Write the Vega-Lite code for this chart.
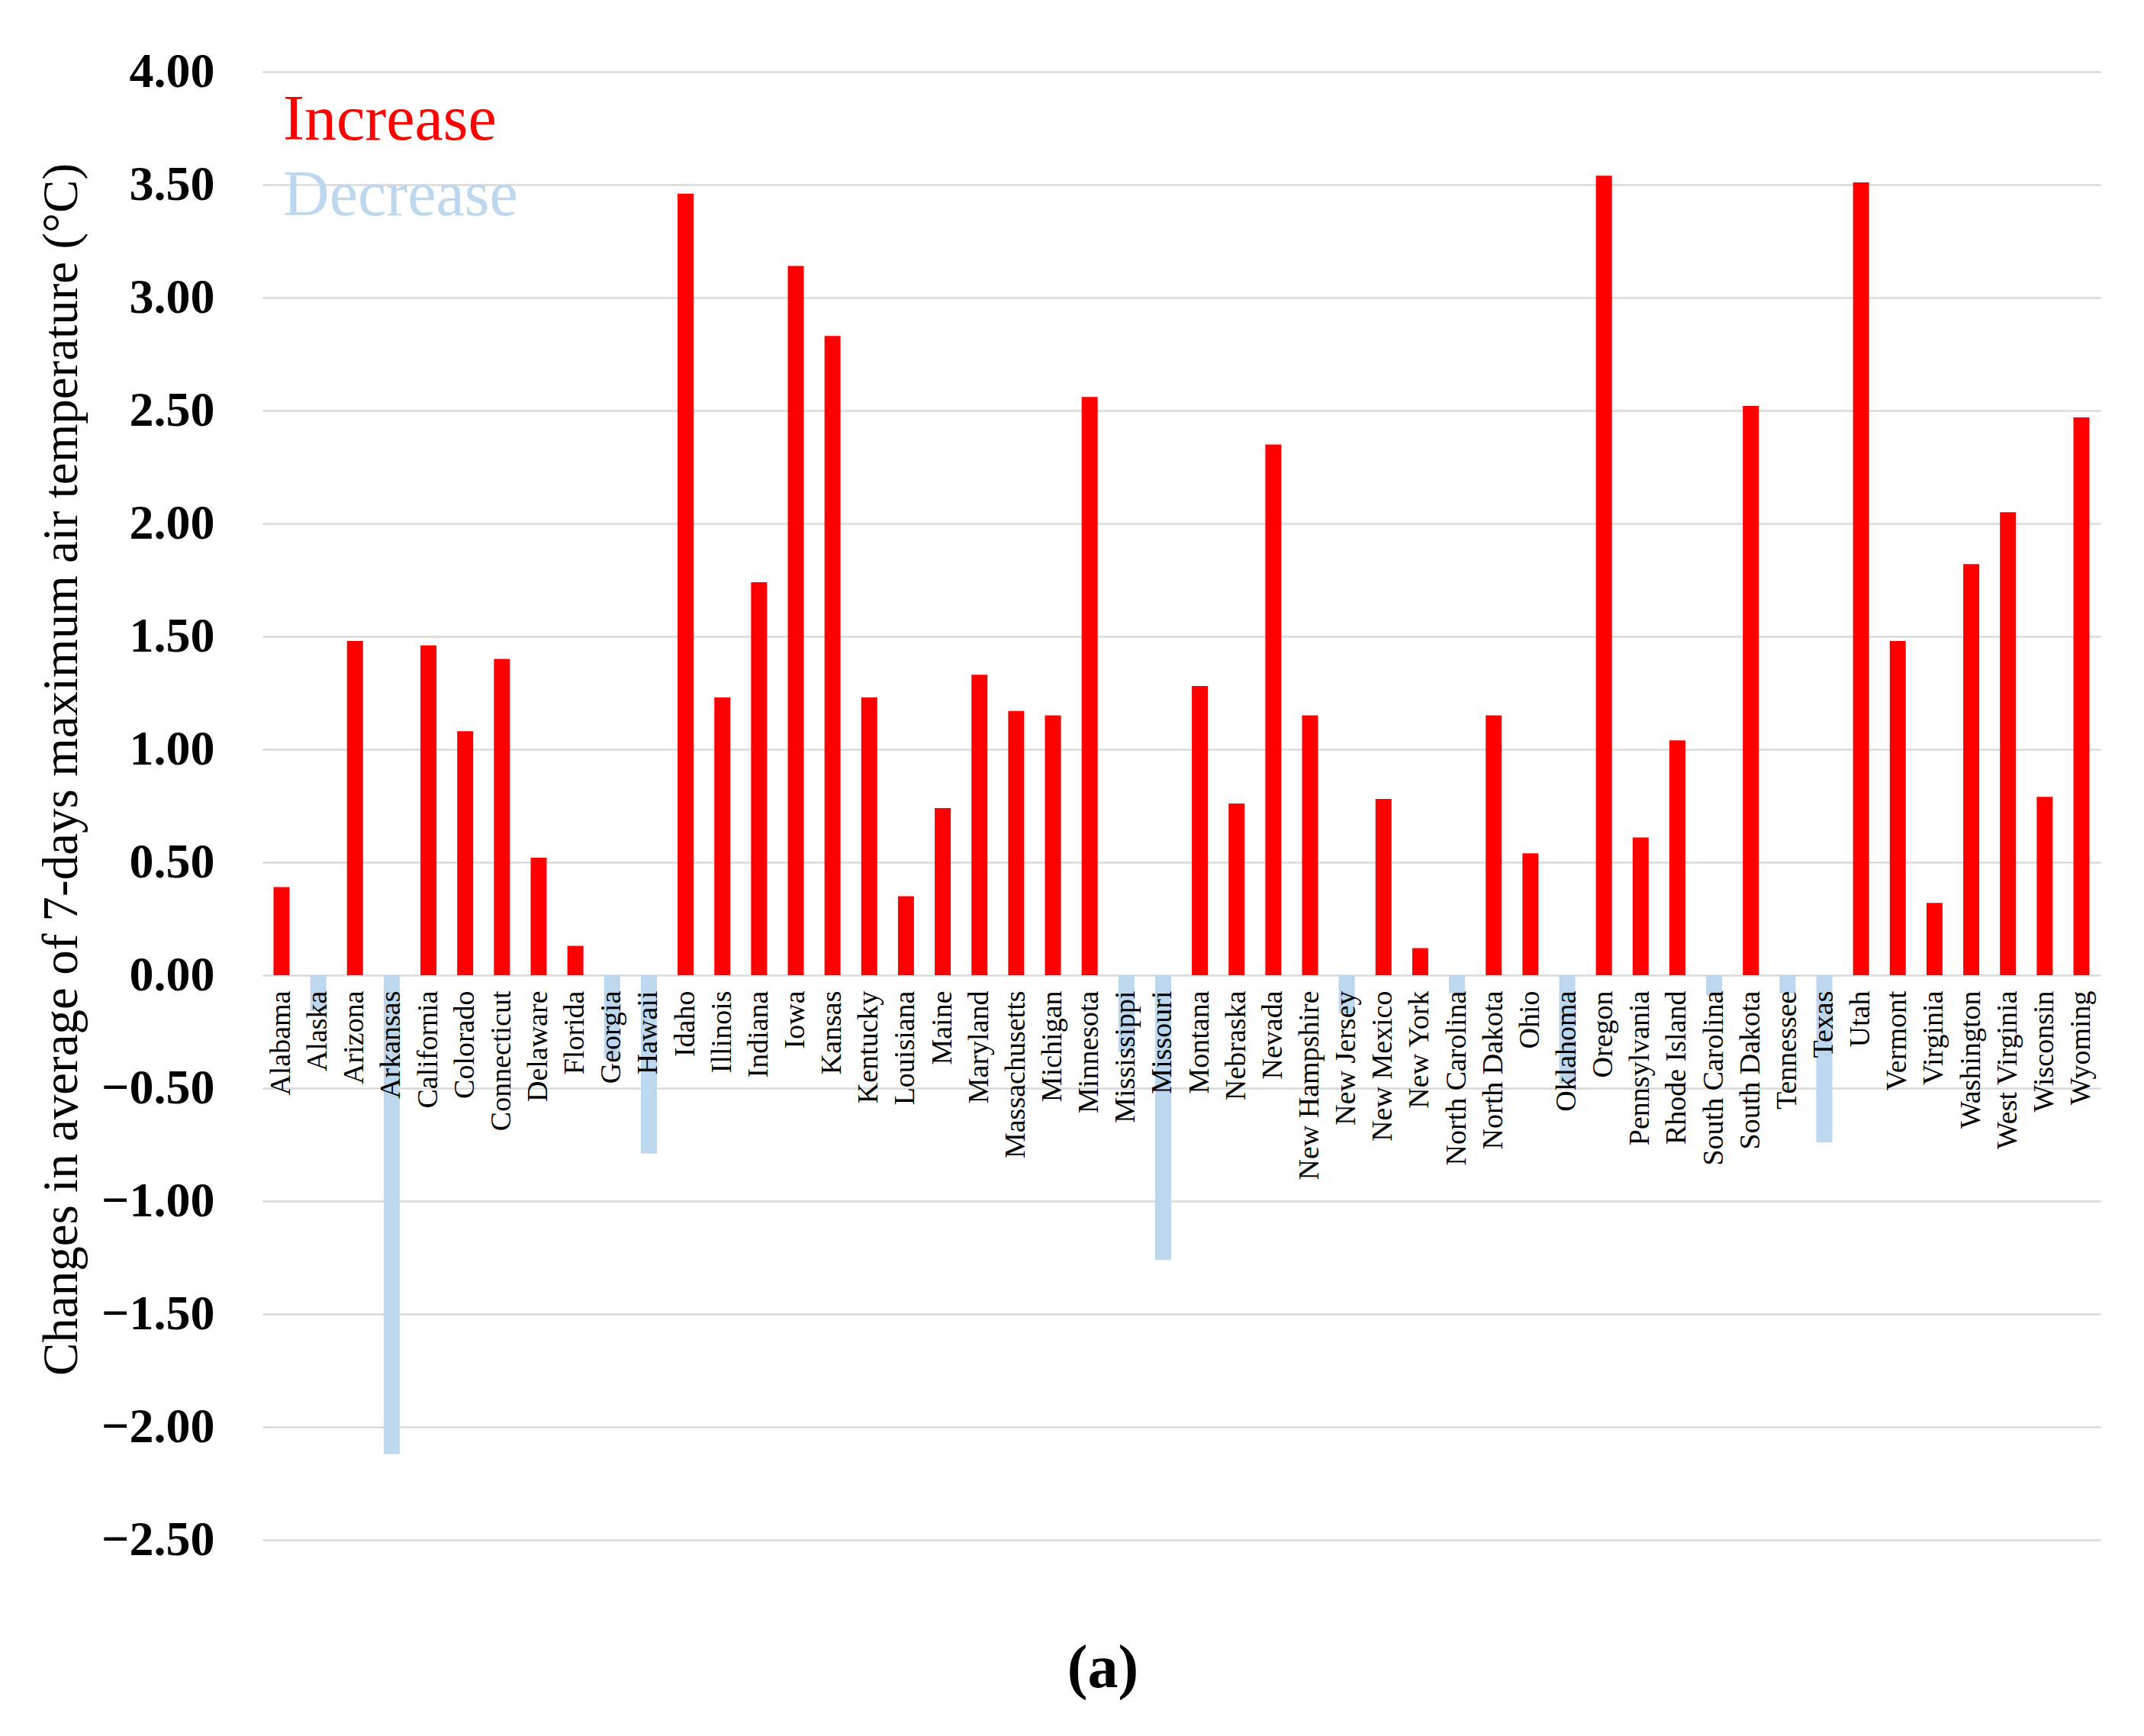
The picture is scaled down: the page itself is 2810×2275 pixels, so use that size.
{
  "$schema": "https://vega.github.io/schema/vega-lite/v6.json",
  "autosize": {"type": "none"},
  "padding": {"left": 344, "top": 94, "right": 57, "bottom": 257},
  "width": 2409,
  "height": 1924,
  "background": "white",
  "config": {"view": {"stroke": null}},
  "title": {
    "text": "(a)",
    "orient": "bottom",
    "anchor": "middle",
    "frame": "group",
    "dx": -103,
    "offset": 98,
    "font": "Liberation Serif",
    "fontSize": 80,
    "fontWeight": "bold",
    "color": "black"
  },
  "data": {
    "values": [
      {"state": "Alabama", "change": 0.39, "dir": "Increase"},
      {"state": "Alaska", "change": -0.16, "dir": "Decrease"},
      {"state": "Arizona", "change": 1.48, "dir": "Increase"},
      {"state": "Arkansas", "change": -2.12, "dir": "Decrease"},
      {"state": "California", "change": 1.46, "dir": "Increase"},
      {"state": "Colorado", "change": 1.08, "dir": "Increase"},
      {"state": "Connecticut", "change": 1.40, "dir": "Increase"},
      {"state": "Delaware", "change": 0.52, "dir": "Increase"},
      {"state": "Florida", "change": 0.13, "dir": "Increase"},
      {"state": "Georgia", "change": -0.37, "dir": "Decrease"},
      {"state": "Hawaii", "change": -0.79, "dir": "Decrease"},
      {"state": "Idaho", "change": 3.46, "dir": "Increase"},
      {"state": "Illinois", "change": 1.23, "dir": "Increase"},
      {"state": "Indiana", "change": 1.74, "dir": "Increase"},
      {"state": "Iowa", "change": 3.14, "dir": "Increase"},
      {"state": "Kansas", "change": 2.83, "dir": "Increase"},
      {"state": "Kentucky", "change": 1.23, "dir": "Increase"},
      {"state": "Louisiana", "change": 0.35, "dir": "Increase"},
      {"state": "Maine", "change": 0.74, "dir": "Increase"},
      {"state": "Maryland", "change": 1.33, "dir": "Increase"},
      {"state": "Massachusetts", "change": 1.17, "dir": "Increase"},
      {"state": "Michigan", "change": 1.15, "dir": "Increase"},
      {"state": "Minnesota", "change": 2.56, "dir": "Increase"},
      {"state": "Mississippi", "change": -0.34, "dir": "Decrease"},
      {"state": "Missouri", "change": -1.26, "dir": "Decrease"},
      {"state": "Montana", "change": 1.28, "dir": "Increase"},
      {"state": "Nebraska", "change": 0.76, "dir": "Increase"},
      {"state": "Nevada", "change": 2.35, "dir": "Increase"},
      {"state": "New Hampshire", "change": 1.15, "dir": "Increase"},
      {"state": "New Jersey", "change": -0.17, "dir": "Decrease"},
      {"state": "New Mexico", "change": 0.78, "dir": "Increase"},
      {"state": "New York", "change": 0.12, "dir": "Increase"},
      {"state": "North Carolina", "change": -0.08, "dir": "Decrease"},
      {"state": "North Dakota", "change": 1.15, "dir": "Increase"},
      {"state": "Ohio", "change": 0.54, "dir": "Increase"},
      {"state": "Oklahoma", "change": -0.48, "dir": "Decrease"},
      {"state": "Oregon", "change": 3.54, "dir": "Increase"},
      {"state": "Pennsylvania", "change": 0.61, "dir": "Increase"},
      {"state": "Rhode Island", "change": 1.04, "dir": "Increase"},
      {"state": "South Carolina", "change": -0.09, "dir": "Decrease"},
      {"state": "South Dakota", "change": 2.52, "dir": "Increase"},
      {"state": "Tennessee", "change": -0.08, "dir": "Decrease"},
      {"state": "Texas", "change": -0.74, "dir": "Decrease"},
      {"state": "Utah", "change": 3.51, "dir": "Increase"},
      {"state": "Vermont", "change": 1.48, "dir": "Increase"},
      {"state": "Virginia", "change": 0.32, "dir": "Increase"},
      {"state": "Washington", "change": 1.82, "dir": "Increase"},
      {"state": "West Virginia", "change": 2.05, "dir": "Increase"},
      {"state": "Wisconsin", "change": 0.79, "dir": "Increase"},
      {"state": "Wyoming", "change": 2.47, "dir": "Increase"}
    ]
  },
  "mark": {"type": "bar"},
  "encoding": {
    "x": {
      "field": "state",
      "type": "nominal",
      "sort": null,
      "scale": {"paddingInner": 0.564, "paddingOuter": 0.301},
      "axis": {
        "title": null,
        "orient": "bottom",
        "offset": -740,
        "zindex": 2,
        "domain": false,
        "ticks": false,
        "grid": false,
        "labelAngle": 270,
        "labelPadding": 20,
        "labelFont": "Liberation Serif",
        "labelFontSize": 38,
        "labelColor": "black",
        "labelOverlap": false,
        "labelLimit": 0
      }
    },
    "y": {
      "field": "change",
      "type": "quantitative",
      "scale": {"domain": [-2.5, 4], "nice": false, "zero": true},
      "axis": {
        "title": "Changes in average of 7-days maximum air temperature (°C)",
        "titleFont": "Liberation Serif",
        "titleFontSize": 65,
        "titleFontWeight": "normal",
        "titleColor": "black",
        "titleX": -230,
        "titleY": 914,
        "values": [-2.5, -2, -1.5, -1, -0.5, 0, 0.5, 1, 1.5, 2, 2.5, 3, 3.5, 4],
        "format": ".2f",
        "labelFont": "Liberation Serif",
        "labelFontSize": 64,
        "labelFontWeight": "bold",
        "labelColor": "black",
        "labelPadding": 63,
        "domain": false,
        "ticks": false,
        "grid": true,
        "gridColor": "#D9D9D9",
        "gridWidth": 2.5
      }
    },
    "color": {
      "field": "dir",
      "type": "nominal",
      "scale": {"domain": ["Increase", "Decrease"], "range": ["#FF0000", "#BDD7EE"]},
      "legend": {
        "title": null,
        "orient": "none",
        "legendX": -57,
        "legendY": 22,
        "direction": "vertical",
        "symbolSize": 0,
        "symbolStrokeWidth": 0,
        "symbolOpacity": 0,
        "labelOffset": 0,
        "labelFont": "Liberation Serif",
        "labelFontSize": 84,
        "rowPadding": 15,
        "labelLimit": 0,
        "encode": {
          "labels": {
            "update": {"fill": {"scale": "color", "field": "value"}}
          }
        }
      }
    }
  }
}
